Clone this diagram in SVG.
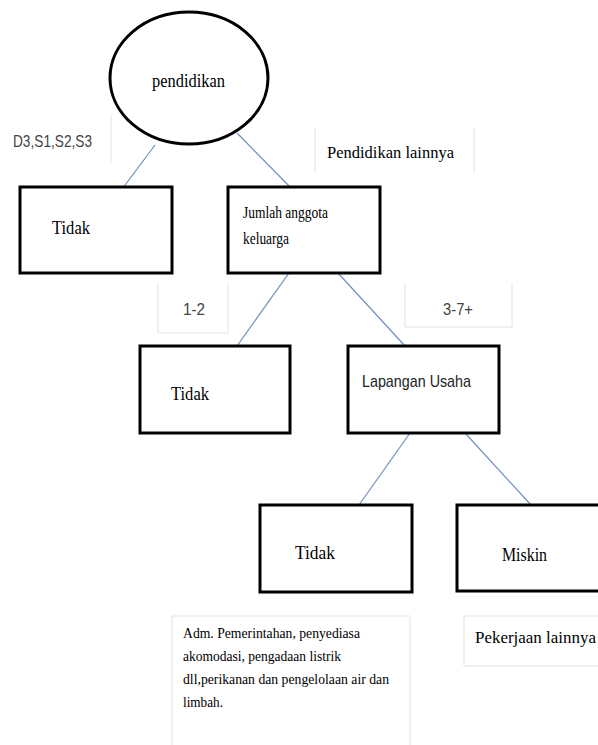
<svg xmlns="http://www.w3.org/2000/svg" width="598" height="745" viewBox="0 0 598 745">
<style>
.node{fill:#fff;stroke:#000;stroke-width:3}
.lbl{fill:none;stroke:#e3e3e3;stroke-width:1}
.conn{stroke:#6e8fbf;stroke-width:1.2;fill:none}
.serif{font-family:"Liberation Serif","Times New Roman",serif;fill:#000}
.sans{font-family:"Liberation Sans Narrow","Liberation Sans",Arial,sans-serif;fill:#444}
</style>
<rect width="598" height="745" fill="#fff"/>
<g id="labels">
  <g id="lbl-d3">
    <line class="lbl" x1="111" y1="115" x2="111" y2="163"/>
    <text class="sans" x="13" y="147" font-size="17" textLength="79" lengthAdjust="spacingAndGlyphs">D3,S1,S2,S3</text>
  </g>
  <g id="lbl-pendidikan-lainnya">
    <line class="lbl" x1="315" y1="128" x2="315" y2="173"/>
    <line class="lbl" x1="474" y1="128" x2="474" y2="173"/>
    <text class="serif" x="327" y="158" font-size="17" textLength="127" lengthAdjust="spacingAndGlyphs">Pendidikan lainnya</text>
  </g>
  <g id="lbl-12">
    <path class="lbl" d="M158,283 V333 H228 V283"/>
    <text class="sans" x="183" y="315" font-size="17" textLength="22" lengthAdjust="spacingAndGlyphs">1-2</text>
  </g>
  <g id="lbl-37">
    <path class="lbl" d="M405,283 V327 H512 V283"/>
    <text class="sans" x="443" y="315" font-size="17" textLength="30" lengthAdjust="spacingAndGlyphs">3-7+</text>
  </g>
  <g id="lbl-adm">
    <path class="lbl" d="M172,745 V616 H410 V745"/>
    <text class="serif" font-size="15">
      <tspan x="183" y="638" textLength="177" lengthAdjust="spacingAndGlyphs">Adm. Pemerintahan, penyediasa</tspan>
      <tspan x="183" y="661" textLength="158" lengthAdjust="spacingAndGlyphs">akomodasi, pengadaan listrik</tspan>
      <tspan x="183" y="684" textLength="206" lengthAdjust="spacingAndGlyphs">dll,perikanan dan pengelolaan air dan</tspan>
      <tspan x="183" y="707" textLength="40" lengthAdjust="spacingAndGlyphs">limbah.</tspan>
    </text>
  </g>
  <g id="lbl-pekerjaan">
    <path class="lbl" d="M600,616 H464 V666 H600"/>
    <text class="serif" x="475" y="643" font-size="16" textLength="121" lengthAdjust="spacingAndGlyphs">Pekerjaan lainnya</text>
  </g>
</g>
<g id="connectors">
  <line class="conn" x1="155" y1="145" x2="111" y2="204"/>
  <line class="conn" x1="237" y1="133" x2="295" y2="192"/>
  <line class="conn" x1="289" y1="273" x2="237" y2="346"/>
  <line class="conn" x1="338" y1="273" x2="405" y2="346"/>
  <line class="conn" x1="410" y1="433" x2="359" y2="505"/>
  <line class="conn" x1="465" y1="433" x2="531" y2="505"/>
</g>
<g id="n-pendidikan">
  <ellipse class="node" cx="189" cy="78" rx="79" ry="66"/>
  <text class="serif" x="152" y="87" font-size="18" textLength="73" lengthAdjust="spacingAndGlyphs">pendidikan</text>
</g>
<g id="n-tidak1">
  <rect class="node" x="20" y="187" width="152" height="86"/>
  <text class="serif" x="52" y="234" font-size="19" textLength="38" lengthAdjust="spacingAndGlyphs">Tidak</text>
</g>
<g id="n-jumlah">
  <rect class="node" x="228" y="187" width="152" height="86"/>
  <text class="serif" font-size="16">
    <tspan x="243" y="218" textLength="85" lengthAdjust="spacingAndGlyphs">Jumlah anggota</tspan>
    <tspan x="243" y="244" textLength="46" lengthAdjust="spacingAndGlyphs">keluarga</tspan>
  </text>
</g>
<g id="n-tidak2">
  <rect class="node" x="140" y="346" width="150" height="87"/>
  <text class="serif" x="171" y="400" font-size="19" textLength="38" lengthAdjust="spacingAndGlyphs">Tidak</text>
</g>
<g id="n-lapangan">
  <rect class="node" x="348" y="346" width="151" height="87"/>
  <text class="sans" x="362" y="387" font-size="17" style="fill:#222" textLength="109" lengthAdjust="spacingAndGlyphs">Lapangan Usaha</text>
</g>
<g id="n-tidak3">
  <rect class="node" x="260" y="505" width="152" height="87"/>
  <text class="serif" x="295" y="559" font-size="19" textLength="40" lengthAdjust="spacingAndGlyphs">Tidak</text>
</g>
<g id="n-miskin">
  <rect class="node" x="457" y="505" width="150" height="86"/>
  <text class="serif" x="502" y="561" font-size="19" textLength="45" lengthAdjust="spacingAndGlyphs">Miskin</text>
</g>
</svg>
